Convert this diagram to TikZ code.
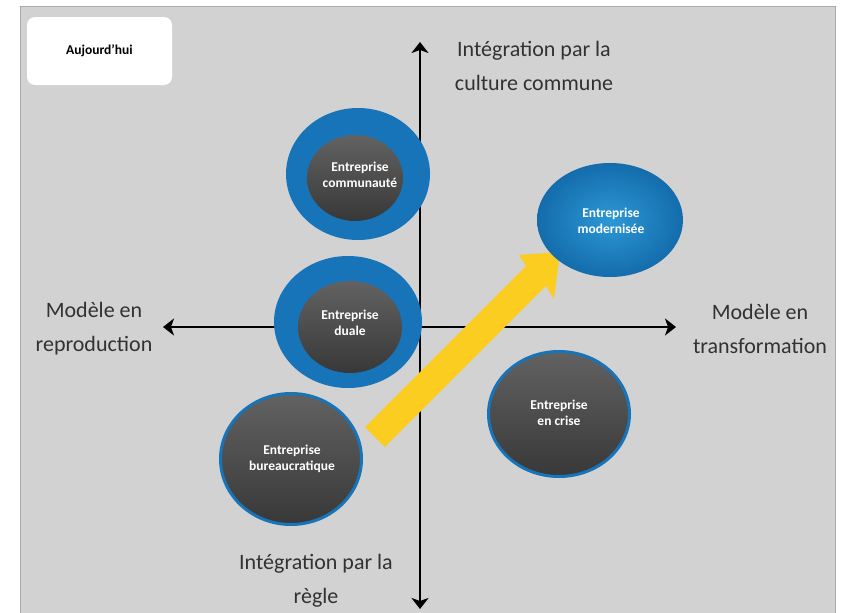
\documentclass[tikz,border=0pt]{standalone}
\usepackage{fontspec}
\setmainfont{Carlito}
\usetikzlibrary{shapes.geometric,arrows.meta}
\definecolor{panel}{RGB}{210,210,210}
\definecolor{paneledge}{RGB}{170,170,170}
\definecolor{ringblue}{RGB}{24,116,184}
\definecolor{darktop}{RGB}{98,98,98}
\definecolor{darkbot}{RGB}{56,56,56}
\definecolor{yel}{RGB}{250,205,32}
\definecolor{labgray}{RGB}{50,50,50}
\definecolor{modin}{RGB}{44,152,214}
\definecolor{modout}{RGB}{20,108,172}
\begin{document}
\begin{tikzpicture}[x=1pt,y=-1pt,
  ring/.style={ellipse, fill=ringblue, inner sep=0pt},
  core/.style={ellipse, top color=darktop, bottom color=darkbot, inner sep=0pt},
  bordered/.style={core, draw=ringblue, line width=3pt},
  ctext/.style={text=white, font=\bfseries\fontsize{13.5}{15.5}\selectfont, align=center, inner sep=0pt},
  axislabel/.style={font=\fontsize{22}{34}\selectfont, text=labgray, align=center, inner sep=0pt},
  axis/.style={line width=2.8pt, {Stealth[length=11pt,width=17pt,inset=3pt]}-{Stealth[length=11pt,width=17pt,inset=3pt]}}
]
\useasboundingbox (0,0) rectangle (841,613);
% panel
\fill[white] (0,0) rectangle (841,613);
\fill[panel] (20,6) rectangle (835,613);
\draw[paneledge, line width=1pt] (20,613) -- (20,6) -- (835,6) -- (835,613);
% today box
\node[fill=white, rounded corners=8pt, minimum width=145pt, minimum height=68pt, inner sep=0pt,
      font=\bfseries\fontsize{13.5}{15.5}\selectfont] (today) at (99.5,51) {Aujourd'hui};
% axes
\coordinate (top) at (420,42);
\coordinate (bot) at (420,609);
\coordinate (left) at (163,327);
\coordinate (right) at (676,327);
\draw[axis] (bot) -- (top);
\draw[axis] (left) -- (right);
% yellow arrow (under the circles)
\fill[yel] (365.1,427.1) -- (526.1,266.1) -- (519,255) -- (560,252) -- (554,299) -- (545.9,285.9) -- (384.9,446.9) -- cycle;
% circles
\node[ring, minimum width=144pt, minimum height=132pt] (commring) at (358,174) {};
\node[core, minimum width=96pt, minimum height=86pt] (comm) at (355,178) {};
\node[ring, minimum width=148pt, minimum height=132pt] (dualring) at (348,322) {};
\node[core, minimum width=104pt, minimum height=92pt] (duale) at (350,327) {};
\node[bordered, minimum width=141pt, minimum height=131pt] (bureau) at (291,459) {};
\node[bordered, minimum width=141pt, minimum height=125pt] (crise) at (559,414) {};
\node[ellipse, inner sep=0pt, inner color=modin, outer color=modout, minimum width=146pt, minimum height=114pt] (modern) at (610,220) {};
% circle texts
\node[ctext] (commtxt) at (360,175) {Entreprise\\communauté};
\node[ctext] (dualetxt) at (350,323) {Entreprise\\duale};
\node[ctext] (bureautxt) at (292,459) {Entreprise\\bureaucratique};
\node[ctext] (crisetxt) at (559,413) {Entreprise\\en crise};
\node[ctext] (moderntxt) at (611,221) {Entreprise\\modernisée};
% axis labels
\node[axislabel] (toplab) at (534,66) {Intégration par la\\culture commune};
\node[axislabel] (leftlab) at (94,329) {Modèle en\\reproduction};
\node[axislabel] (rightlab) at (760,329) {Modèle en\\transformation};
\node[axislabel] (botlab) at (316,581) {Intégration par la\\règle};
\end{tikzpicture}
\end{document}
